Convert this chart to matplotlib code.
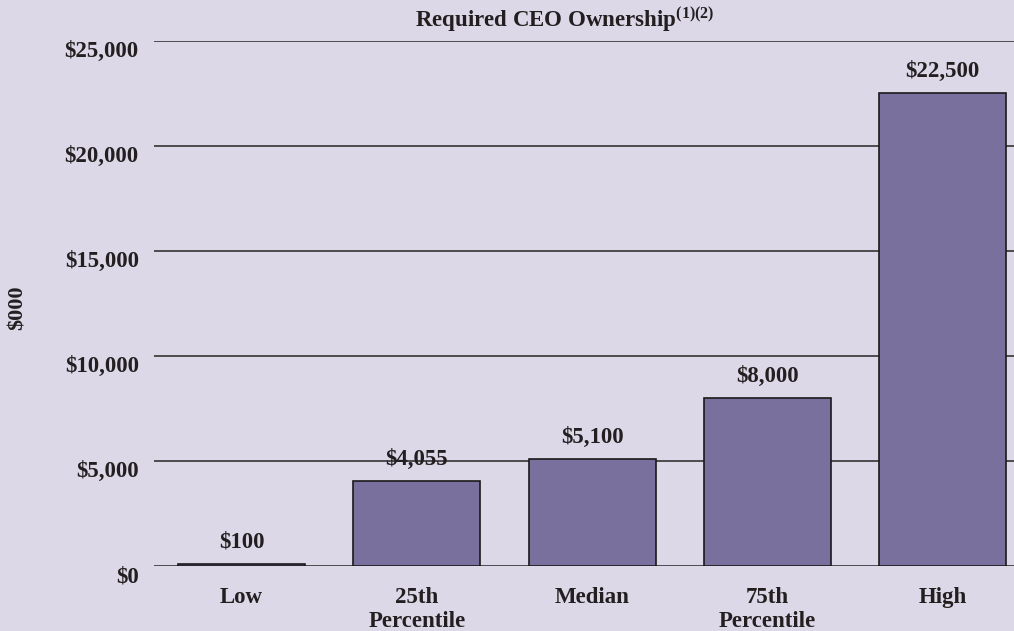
import matplotlib.pyplot as plt
from matplotlib.ticker import FuncFormatter
from matplotlib.transforms import ScaledTranslation

# =========================
# DATA
# =========================

categories = ["Low", "25th\nPercentile", "Median", "75th\nPercentile", "High"]
values = [100, 4055, 5100, 8000, 22500]
y_ticks = [0, 5000, 10000, 15000, 20000, 25000]

# =========================
# STYLE
# =========================

bg = "#dcd8e8"
bar_color = "#79709e"
text_color = "#231f20"

plt.rcParams["font.family"] = ["Liberation Serif", "DejaVu Serif"]
plt.rcParams["font.weight"] = "bold"
plt.rcParams["mathtext.fontset"] = "custom"
plt.rcParams["mathtext.rm"] = "Liberation Serif:bold"
plt.rcParams["mathtext.it"] = "Liberation Serif:bold"
plt.rcParams["mathtext.bf"] = "Liberation Serif:bold"

fig = plt.figure(figsize=(10.14, 6.31), dpi=100, facecolor=bg)
ax = fig.add_axes([154 / 1014, 1 - 566 / 631, 1 - 154 / 1014, (566 - 41) / 631])
ax.set_facecolor(bg)

# =========================
# BARS
# =========================

x = range(len(categories))
ax.bar(x, values, width=0.725, color=bar_color, edgecolor="#1a1a1a",
       linewidth=1.2, zorder=3)

for xi, v in zip(x, values):
    ax.annotate("\\$" + format(v, ","), (xi, v), xytext=(0, 8),
                textcoords="offset points", ha="center", va="bottom",
                fontsize=16.5, fontweight="bold", color=text_color)

# =========================
# AXES
# =========================

ax.set_xlim(-0.5, 4.408)
ax.set_ylim(0, 25000)
ax.set_yticks(y_ticks)
ax.yaxis.set_major_formatter(FuncFormatter(lambda v, p: "\\$" + format(int(v), ",")))
ax.grid(axis="y", color="#333333", linewidth=1.2, zorder=0)
ax.tick_params(axis="y", length=0, pad=11, labelsize=16.5, labelcolor=text_color)
ax.tick_params(axis="x", length=0, pad=15, labelsize=16.5, labelcolor=text_color)
ax.set_xticks(list(x))
ax.set_xticklabels(categories, linespacing=1.2)
for lbl in ax.get_xticklabels() + ax.get_yticklabels():
    lbl.set_fontweight("bold")

# y labels sit a little below their gridlines
shift = ScaledTranslation(0, -0.08, fig.dpi_scale_trans)
for lbl in ax.get_yticklabels():
    lbl.set_transform(lbl.get_transform() + shift)

for s in ax.spines.values():
    s.set_visible(False)

fig.text(18 / 1014, 1 - 308 / 631, "\\$000", rotation=90, ha="center", va="center",
         fontsize=16, fontweight="bold", color=text_color)

fig.text(565 / 1014, 1 - 20 / 631, "Required CEO Ownership$^{(1)(2)}$",
         ha="center", va="center", fontsize=16.5, fontweight="bold", color=text_color)

plt.savefig("out.png", dpi=100, facecolor=bg)
